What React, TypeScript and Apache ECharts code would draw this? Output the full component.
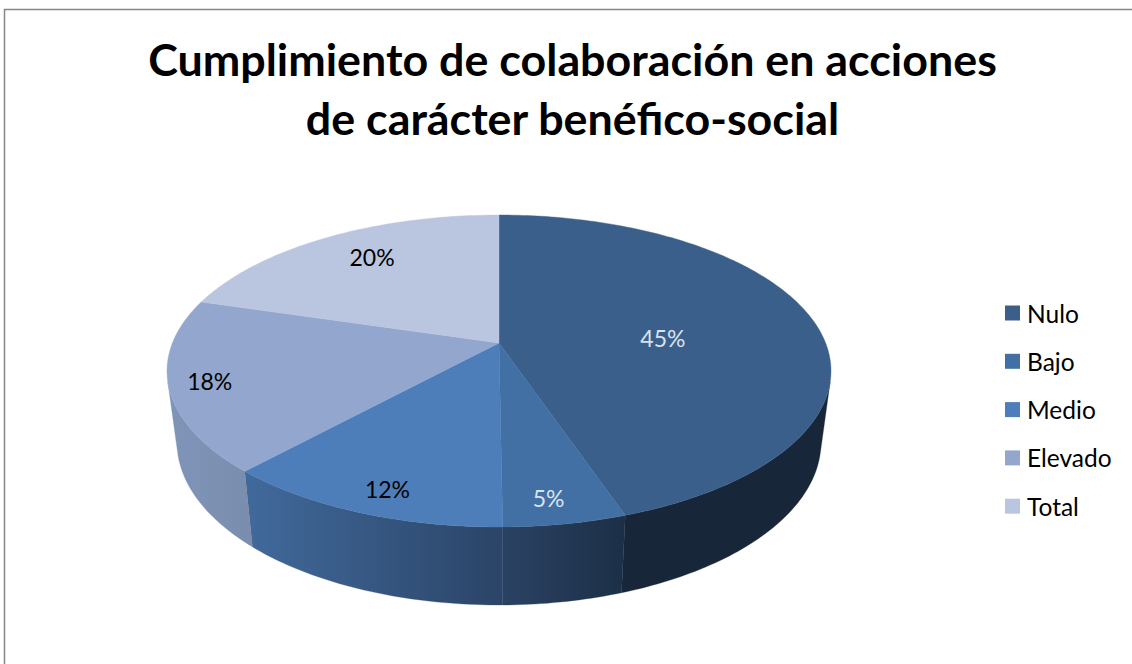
import React, { useEffect, useRef } from "react";
import * as echarts from "echarts";

const TITLE = "Cumplimiento de colaboración en acciones\nde carácter benéfico-social";
const categories = ["Nulo", "Bajo", "Medio", "Elevado", "Total"];
// Shares estimated from the slice boundaries; they round to the printed labels.
const shares = [44.8, 5.05, 11.95, 17.8, 20.4];

const topColors = ["#3a5f8b", "#4270a4", "#4d7eba", "#93a7ce", "#bac6df"];
const wallFrom = ["#172638", "#2a4263", "#416a9c", "#7f95b8", "#7f95b8"];
const wallTo = ["#172638", "#1c2f47", "#2b4467", "#7a8dad", "#7a8dad"];
const labelColors = ["#d9e3f0", "#d9e3f0", "#000000", "#000000", "#000000"];
const labelRadius = [0.506, 0.875, 0.873, 0.881, 0.768];
const labelAngleShift = [5.6, 1.2, -1.5, -0.4, 2.4];

// Perspective projection of the pie's disc, top face and bottom face.
const K = -0.1795;
const CX = 499;
const TOP = { cy: 343, a: 151, b: 326.6 };
const BOTTOM = { cy: 412.8, a: 157.7, b: 316.8 };
const WALL_START = 104.3;
const WALL_END = 255.7;

const project = (face: typeof TOP, deg: number, r = 1): number[] => {
  const t = (deg * Math.PI) / 180;
  const u = r * Math.sin(t);
  const v = -r * Math.cos(t);
  const w = 1 + K * v;
  return [CX + (face.b * u) / w, face.cy + (face.a * v) / w];
};

const arcPoints = (face: typeof TOP, from: number, to: number): number[][] => {
  const n = Math.max(2, Math.ceil(Math.abs(to - from)));
  const pts: number[][] = [];
  for (let i = 0; i <= n; i++) pts.push(project(face, from + ((to - from) * i) / n));
  return pts;
};

const total = shares.reduce((s, v) => s + v, 0);
const startAngles = shares.map(
  (_, i) => (shares.slice(0, i).reduce((s, v) => s + v, 0) / total) * 360
);

const renderSlice = (index: number) => (_params: unknown, api: any) => {
  const value = api.value(0) as number;
  const start = startAngles[index];
  const end = start + (value / total) * 360;
  const children: any[] = [];

  const wa = Math.max(start, WALL_START);
  const wb = Math.min(end, WALL_END);
  if (wb > wa) {
    const points = [...arcPoints(TOP, wa, wb), ...arcPoints(BOTTOM, wb, wa)];
    const fill = new echarts.graphic.LinearGradient(0, 0, 1, 0, [
      { offset: 0, color: wallFrom[index] },
      { offset: 1, color: wallTo[index] },
    ]);
    children.push({
      type: "polygon",
      shape: { points },
      style: { fill, stroke: wallTo[index], lineWidth: 0.3 },
    });
  }

  children.push({
    type: "polygon",
    shape: { points: [[CX, TOP.cy], ...arcPoints(TOP, start, end)] },
    style: { fill: topColors[index], stroke: topColors[index], lineWidth: 0.4 },
  });

  const mid = (start + end) / 2 + labelAngleShift[index];
  const [lx, ly] = project(TOP, mid, labelRadius[index]);
  children.push({
    type: "text",
    x: lx,
    y: ly,
    z2: 10,
    style: {
      text: `${Math.round(value)}%`,
      fill: labelColors[index],
      fontFamily: "Lato",
      fontSize: 23,
      align: "center",
      verticalAlign: "middle",
    },
  });
  return { type: "group", children };
};

export default function App() {
  const ref = useRef<HTMLDivElement>(null);
  useEffect(() => {
    document.body.style.margin = "0";
    document.body.style.overflow = "hidden";
    const chart = echarts.init(ref.current!, null, { renderer: "svg" });
    chart.setOption({
      animation: false,
      backgroundColor: "#ffffff",
      title: {
        text: TITLE,
        left: 567.5,
        top: 24,
        textAlign: "center",
        textStyle: {
          fontFamily: "Lato",
          fontWeight: "bold",
          fontSize: 44.8,
          lineHeight: 59,
          color: "#000000",
        },
      },
      legend: {
        orient: "vertical",
        left: 1000,
        top: 294,
        itemWidth: 15,
        itemHeight: 15,
        itemGap: 20.3,
        icon: "rect",
        data: categories,
        textStyle: {
          fontFamily: "Lato",
          fontSize: 24.5,
          color: "#000000",
          padding: [0, 0, 0, 2],
          lineHeight: 28,
        },
      },
      graphic: [
        {
          type: "polyline",
          shape: { points: [[4.5, 664], [4.5, 9.5], [1132, 9.5]] },
          style: { stroke: "#868686", lineWidth: 1.5, fill: "none" },
          silent: true,
        },
      ],
      series: categories.map((name, i) => ({
        type: "custom",
        name,
        coordinateSystem: "none",
        renderItem: renderSlice(i),
        itemStyle: { color: topColors[i] },
        data: [[shares[i]]],
      })),
    });
    return () => chart.dispose();
  }, []);
  return <div ref={ref} style={{ position: "absolute", left: 0, top: 0, width: 1132, height: 664 }} />;
}
